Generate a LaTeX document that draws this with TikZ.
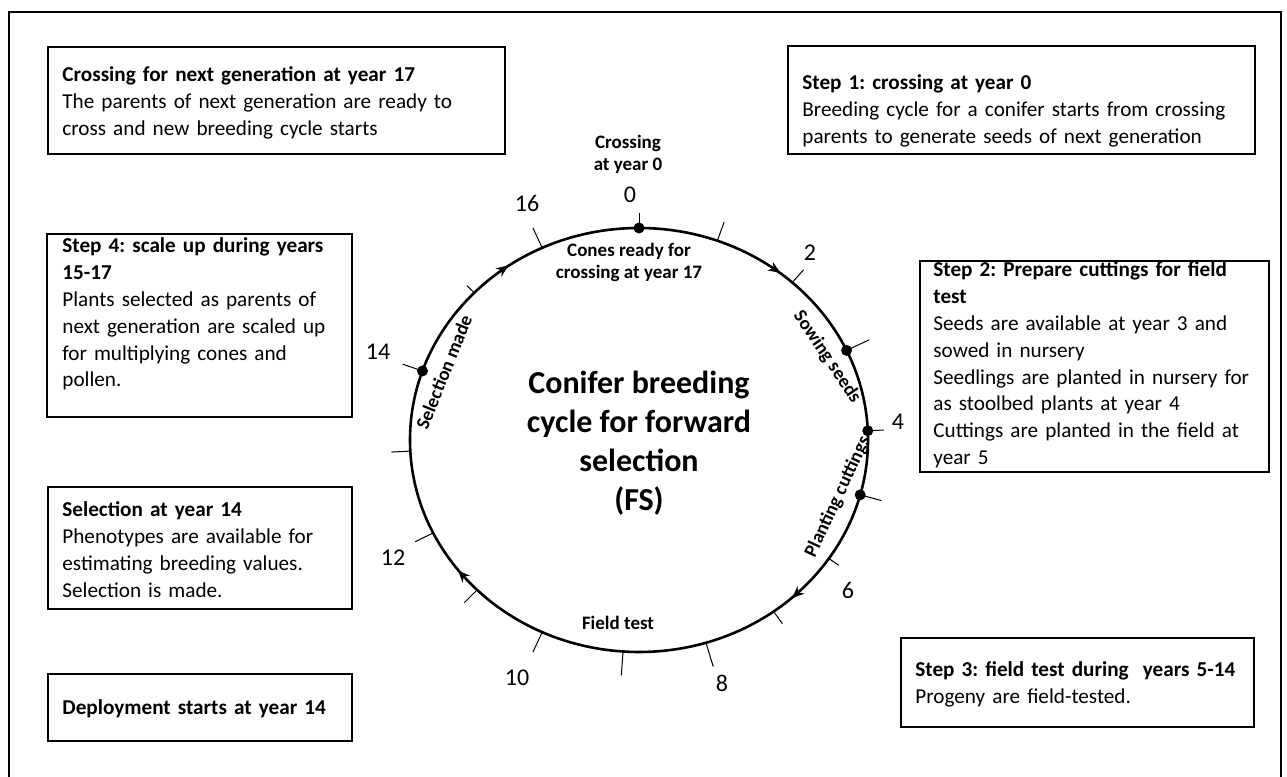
\documentclass[tikz,border=0pt]{standalone}
\usepackage{fontspec}
\setmainfont{Carlito}
\usetikzlibrary{arrows.meta,calc,decorations.markings}
\frenchspacing

\tikzset{
  box/.style={line width=1pt},
  txt/.style={anchor=base west,inner sep=0pt,text width=240pt,align=left,
    font=\fontsize{10.6}{13.4}\selectfont},
  yr/.style={inner sep=0pt,font=\fontsize{12}{14}\selectfont},
  lab/.style={inner sep=0pt,align=center,font=\bfseries\fontsize{9.5}{11}\selectfont},
  tick/.style={line width=0.5pt},
  cyc/.style={line width=1.3pt,postaction={decorate},
    decoration={markings,
      mark=at position 0.15 with {\arrow{<}},
      mark=at position 0.358 with {\arrow{<}},
      mark=at position 0.611 with {\arrow{<}},
      mark=at position 0.878 with {\arrow{<}}}}
}

\begin{document}
\begin{tikzpicture}[x=0.5pt,y=0.5pt,>={Stealth[length=6pt,width=5pt]}]
  \useasboundingbox (0,0) rectangle (1287,777);
  \draw[box] (9,-10) rectangle (1281,765);

  % boxes round the cycle
  \draw[box] (48,730) rectangle (505,623);
  \node[txt] (nextgen) at (62,695) {\textbf{Crossing for next generation at year 17}\\
    The parents of next generation are ready to\\cross and new breeding cycle starts};
  \draw[box] (788,731) rectangle (1255,623);
  \node[txt] (step1) at (802,687) {\textbf{Step 1: crossing at year 0}\\
    Breeding cycle for a conifer starts from crossing\\parents to generate seeds of next generation};
  \draw[box] (920,516) rectangle (1269,305);
  \node[txt] (step2) at (933,500) {\textbf{Step 2: Prepare cuttings for field}\\\textbf{test}\\
    Seeds are available at year 3 and\\sowed in nursery\\
    Seedlings are planted in nursery for\\as stoolbed plants at year 4\\
    Cuttings are planted in the field at\\year 5};
  \draw[box] (47,543) rectangle (352,360);
  \node[txt] (step4) at (62,524) {\textbf{Step 4: scale up during years}\\\textbf{15-17}\\
    Plants selected as parents of\\next generation are scaled up\\
    for multiplying cones and\\pollen.};
  \draw[box] (48,290) rectangle (352,168);
  \node[txt] (select) at (62,260) {\textbf{Selection at year 14}\\
    Phenotypes are available for\\estimating breeding values.\\Selection is made.};
  \draw[box] (48,103) rectangle (352,36);
  \node[txt] (deploy) at (62,62) {\textbf{Deployment starts at year 14}};
  \draw[box] (901,139) rectangle (1254,50);
  \node[txt] (step3) at (915,100) {\textbf{Step 3: field test during\ \ years 5-14}\\
    Progeny are field-tested.};

  % the cycle
  \coordinate (c) at (639,337);
  \draw[cyc] (c) ellipse [x radius=229,y radius=212];
  \foreach \a/\l [evaluate=\l as \rxo using 229+\l,evaluate=\l as \ryo using 212+\l] in
    {90/15,70/20,48/17,25/25,2.5/16,-15/22,-34/12,-54/15,-73/25,-94/24,
     -115/22,-135/18,-154/20,-177/19,-199/21,-224/10,-245/22}
    \draw[tick] ($(c)+(\a:229 and 212)$) -- ($(c)+(\a:{\rxo} and {\ryo})$);
  \foreach \a in {90,25,2.5,-15,161}
    \fill ($(c)+(\a:229 and 212)$) circle (5.5);

  % years
  \node[yr] (n0) at (630,582) {0};
  \node[yr] (n2) at (810,524) {2};
  \node[yr] (n4) at (898,355) {4};
  \node[yr] (n6) at (848,187) {6};
  \node[yr] (n8) at (722,94) {8};
  \node[yr] (n10) at (517,99) {10};
  \node[yr] (n12) at (393,219) {12};
  \node[yr] (n14) at (378,425) {14};
  \node[yr] (n16) at (527,574) {16};

  % stages
  \node[lab] (cross0) at (628,623) {Crossing\\at year 0};
  \node[lab] (cones) at (629,515) {Cones ready for\\crossing at year 17};
  \node[lab,rotate=-56] (sowing) at (827,420) {Sowing seeds};
  \node[lab,rotate=65] (planting) at (838,280) {Planting cuttings};
  \node[lab,rotate=68] (selmade) at (444,405) {Selection made};
  \node[lab] (field) at (618,154) {Field test};

  \node[align=center,font=\bfseries\fontsize{16}{19.5}\selectfont] (title) at (639,334)
    {Conifer breeding\\cycle for forward\\selection\\(FS)};
\end{tikzpicture}
\end{document}
